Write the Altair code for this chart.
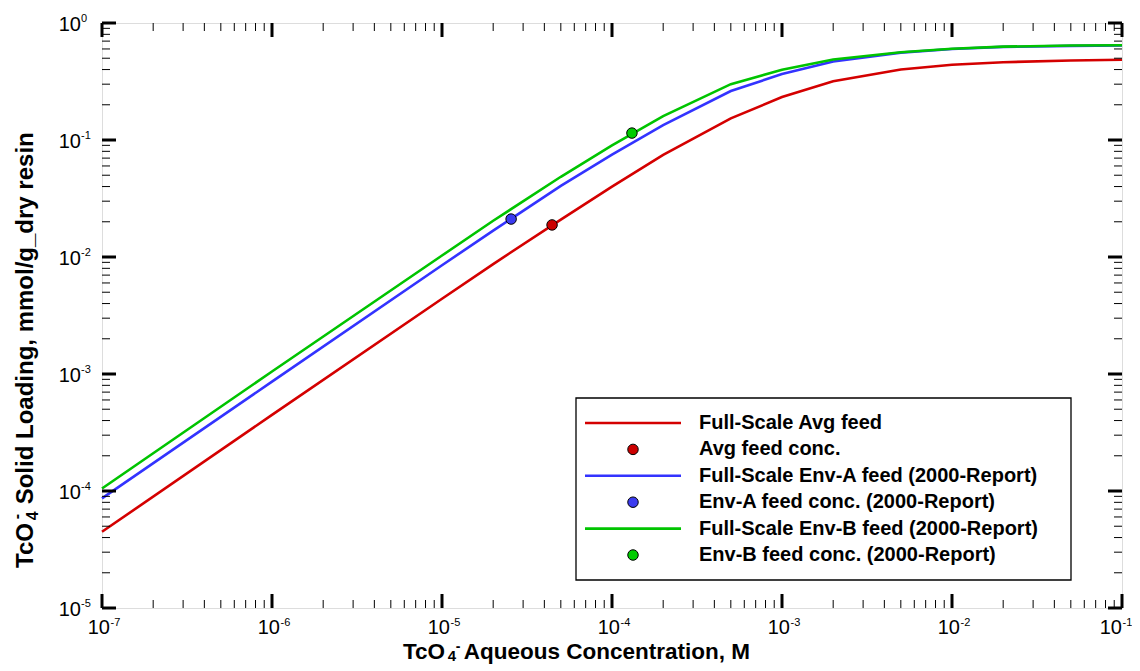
import altair as alt
import pandas as pd

# ---------------- data ----------------
conc = [1e-7, 1e-6, 1e-5, 2e-5, 5e-5, 1e-4, 2e-4, 5e-4, 1e-3, 2e-3, 5e-3, 1e-2, 2e-2, 5e-2, 1e-1]
load_avg = [4.48e-5, 4.47e-4, 4.4e-3, 8.7e-3, 0.0209, 0.040, 0.0745, 0.153, 0.233, 0.318, 0.400, 0.440, 0.462, 0.478, 0.485]
load_envA = [8.65e-5, 8.6e-4, 8.5e-3, 0.0168, 0.0405, 0.075, 0.134, 0.262, 0.366, 0.468, 0.558, 0.600, 0.625, 0.638, 0.644]
load_envB = [1.05e-4, 1.05e-3, 0.0103, 0.0204, 0.0485, 0.090, 0.160, 0.300, 0.398, 0.487, 0.562, 0.602, 0.628, 0.642, 0.646]

curve_names = ["Full-Scale Avg feed", "Full-Scale Env-A feed (2000-Report)", "Full-Scale Env-B feed (2000-Report)"]
feed_names = ["Avg feed conc.", "Env-A feed conc. (2000-Report)", "Env-B feed conc. (2000-Report)"]
feed_conc = [4.44e-5, 2.55e-5, 1.31e-4]
feed_load = [0.0188, 0.0211, 0.1146]

line_colors = ["#D40000", "#3333FF", "#00C400"]
point_colors = ["#CC0000", "#3B3BF0", "#00CC00"]

x_major = [1e-7, 1e-6, 1e-5, 1e-4, 1e-3, 1e-2, 1e-1]
x_exp = ["-7", "-6", "-5", "-4", "-3", "-2", "-1"]
y_major = [1e-5, 1e-4, 1e-3, 1e-2, 1e-1, 1e0]
y_exp = ["-5", "-4", "-3", "-2", "-1", "0"]
x_minor = [m * 10.0 ** e for e in range(-7, -1) for m in range(2, 10)]
y_minor = [m * 10.0 ** e for e in range(-5, 0) for m in range(2, 10)]

# ---------------- tables ----------------
curves = pd.concat([
    pd.DataFrame({"conc": conc, "q": vals, "series": name})
    for name, vals in zip(curve_names, [load_avg, load_envA, load_envB])
])
feeds = pd.DataFrame({"conc": feed_conc, "q": feed_load, "series": feed_names})

W, H = 1020, 585
FONT = "Liberation Sans"

xs = alt.Scale(type="log", domain=[1e-7, 1e-1], nice=False)
ys = alt.Scale(type="log", domain=[1e-5, 1], nice=False)
col = alt.Scale(domain=curve_names + feed_names, range=line_colors + point_colors)

lines = alt.Chart(curves).mark_line(strokeWidth=2.6).encode(
    x=alt.X("conc:Q", scale=xs, axis=None),
    y=alt.Y("q:Q", scale=ys, axis=None),
    color=alt.Color("series:N", scale=col, legend=None),
    detail="series:N",
)
points = alt.Chart(feeds).mark_point(filled=True, size=110, stroke="black", strokeWidth=1, opacity=1).encode(
    x=alt.X("conc:Q", scale=xs, axis=None),
    y=alt.Y("q:Q", scale=ys, axis=None),
    fill=alt.Fill("series:N", scale=col, legend=None),
)

xmaj = pd.DataFrame({"v": x_major, "e": x_exp})
ymaj = pd.DataFrame({"v": y_major, "e": y_exp})
xmin = pd.DataFrame({"v": x_minor})
ymin = pd.DataFrame({"v": y_minor})

def xticks(df, y0, y1, w):
    return alt.Chart(df).mark_rule(color="black", strokeWidth=w).encode(
        x=alt.X("v:Q", scale=xs, axis=None), y=alt.value(y0), y2=alt.value(y1))

def yticks(df, x0, x1, w):
    return alt.Chart(df).mark_rule(color="black", strokeWidth=w).encode(
        y=alt.Y("v:Q", scale=ys, axis=None), x=alt.value(x0), x2=alt.value(x1))

ticks = [
    xticks(xmin, H, H - 8, 1), xticks(xmin, 0, 8, 1),
    xticks(xmaj, H, H - 14, 3), xticks(xmaj, 0, 14, 3),
    yticks(ymin, 0, 8, 1), yticks(ymin, W, W - 8, 1),
    yticks(ymaj, 0, 14, 3), yticks(ymaj, W, W - 14, 3),
]

def xlabels(flt, shift):
    base = alt.Chart(xmaj).transform_filter(flt)
    ten = base.mark_text(font=FONT, fontSize=20, align="right", baseline="alphabetic", dx=8 + shift).encode(
        x=alt.X("v:Q", scale=xs, axis=None), y=alt.value(H + 26), text=alt.value("10"))
    ex = base.mark_text(font=FONT, fontSize=11, align="left", baseline="alphabetic", dx=8.5 + shift).encode(
        x=alt.X("v:Q", scale=xs, axis=None), y=alt.value(H + 18), text="e:N")
    return [ten, ex]

xlabs = xlabels(alt.datum.v < 0.05, 0) + xlabels(alt.datum.v > 0.05, -8)

ylab10 = alt.Chart(ymaj).mark_text(font=FONT, fontSize=20, align="right", baseline="alphabetic", dy=7.5).encode(
    y=alt.Y("v:Q", scale=ys, axis=None), x=alt.value(-21), text=alt.value("10"))
ylabE = alt.Chart(ymaj).mark_text(font=FONT, fontSize=11, align="left", baseline="alphabetic", dy=-1).encode(
    y=alt.Y("v:Q", scale=ys, axis=None), x=alt.value(-21), text="e:N")

one = pd.DataFrame({"a": [0]})

def txt(s, x, y, fs, angle=0, weight="bold"):
    return alt.Chart(one).mark_text(font=FONT, fontSize=fs, fontWeight=weight, align="left",
                                    baseline="alphabetic", angle=angle).encode(
        x=alt.value(x), y=alt.value(y), text=alt.value(s))

# x-axis title: TcO4(-) Aqueous Concentration, M
XFS = 22.5
xt0, xtb = 301, 635.5
xw = 1.945 * XFS
xtitle = [
    txt("TcO", xt0, xtb, XFS),
    txt("4", xt0 + xw + 1, xtb + 2, 15),
    txt("-", xt0 + xw + 9, xtb - 8, 14),
    txt("Aqueous Concentration, M", xt0 + xw + 17, xtb, XFS),
]
# y-axis title (rotated)
YFS = 24
ytx, ytb = -69, 545
yw = 1.945 * YFS
ytitle = [
    txt("TcO", ytx, ytb, YFS, 270),
    txt("4", ytx + 5, ytb - yw - 1, 16, 270),
    txt("-", ytx - 11, ytb - yw - 2, 16, 270),
    txt("Solid Loading, mmol/g_dry resin", ytx, ytb - yw - 17, YFS, 270),
]

main = alt.layer(lines, points, *ticks, *xlabs, ylab10, ylabE, *xtitle, *ytitle)

# ---------------- legend ----------------
leg = pd.DataFrame({
    "label": [curve_names[0], feed_names[0], curve_names[1], feed_names[1], curve_names[2], feed_names[2]],
    "row": [0, 1, 2, 3, 4, 5],
    "kind": ["line", "point"] * 3,
    "color": [line_colors[0], point_colors[0], line_colors[1], point_colors[1], line_colors[2], point_colors[2]],
})
ly = alt.Scale(domain=[0, 5], range=[400, 532])
box = alt.Chart(one).mark_rect(fill="white", stroke="black", strokeWidth=1.3).encode(
    x=alt.value(474), x2=alt.value(969), y=alt.value(375), y2=alt.value(557))
leg_lines = alt.Chart(leg).transform_filter(alt.datum.kind == "line").mark_rule(strokeWidth=2.6).encode(
    y=alt.Y("row:Q", scale=ly, axis=None), x=alt.value(483), x2=alt.value(579),
    color=alt.Color("color:N", scale=None))
leg_pts = alt.Chart(leg).transform_filter(alt.datum.kind == "point").mark_point(
    filled=True, size=110, stroke="black", strokeWidth=1, opacity=1).encode(
    y=alt.Y("row:Q", scale=ly, axis=None), x=alt.value(531),
    fill=alt.Fill("color:N", scale=None))
leg_txt = alt.Chart(leg).mark_text(font=FONT, fontSize=20, fontWeight="bold", align="left", baseline="middle").encode(
    y=alt.Y("row:Q", scale=ly, axis=None), x=alt.value(597), text="label:N")
legend = alt.layer(box, leg_lines, leg_pts, leg_txt)

chart = alt.layer(main, legend).resolve_scale(y="independent", x="independent", color="independent", fill="independent").properties(
    width=W, height=H,
    autosize=alt.AutoSizeParams(type="none"),
    padding={"left": 94, "top": 15, "right": 10, "bottom": 56},
).configure_view(stroke="black", strokeWidth=3).configure(background="white")

chart.save("out.html", embed_options={"renderer": "svg", "actions": False})
